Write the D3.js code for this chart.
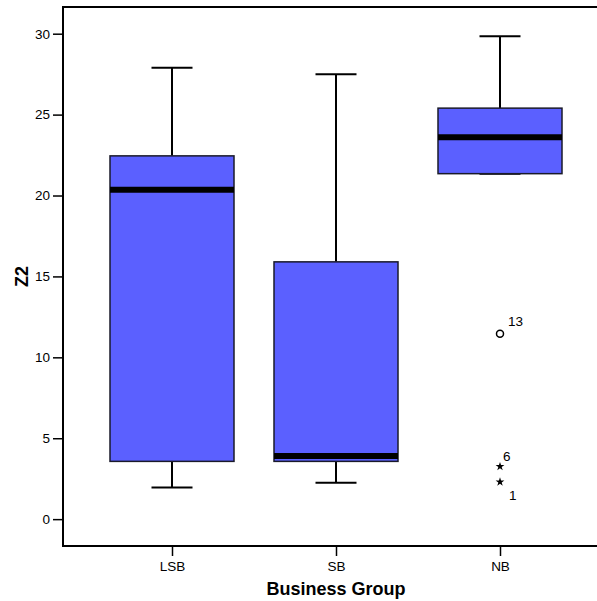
<html>
<head>
<script src="https://d3js.org/d3.v7.min.js"></script>
<style>
  body { margin: 0; background: #fff; }
  text { font-family: "Liberation Sans", Arial, sans-serif; fill: #000; }
</style>
</head>
<body>
<svg id="boxplot" width="597" height="601"></svg>
<script>
const groups = ["LSB", "SB", "NB"];
const whiskerLow = [1.96, 2.25, 21.35];
const q1 = [3.57, 3.57, 21.35];
const median = [20.35, 3.9, 23.6];
const q3 = [22.45, 15.9, 25.4];
const whiskerHigh = [27.9, 27.5, 29.85];
const yTicks = [0, 5, 10, 15, 20, 25, 30];
// outliers: group, value, case label, kind
const outGroup = ["NB", "NB", "NB"];
const outValue = [11.45, 3.25, 2.3];
const outLabel = ["13", "6", "1"];
const outKind = ["circle", "star", "star"];

const svg = d3.select('svg#boxplot');
const frame = {left: 63, top: 7, right: 609, bottom: 546};

const yScale = d3.scaleLinear().domain([-1.66, 31.65]).range([frame.bottom, frame.top]);
const xScale = d3.scalePoint().domain(groups).range([172, 500]);
const boxW = 124, capW = 41;

// frame lines (right edge falls outside the picture)
svg.append('path')
  .attr('d', `M${frame.right},${frame.top}H${frame.left}V${frame.bottom}H${frame.right}`)
  .attr('fill', 'none').attr('stroke', '#000').attr('stroke-width', 2);

// y axis
let leftAxis = d3.axisLeft(yScale).tickValues(yTicks).tickSize(10).tickPadding(3);
let gy = svg.append('g').attr('transform', `translate(${frame.left},0)`).call(leftAxis);
gy.select('.domain').remove();
gy.selectAll('.tick line').attr('stroke-width', 1.5);
gy.selectAll('.tick text').attr('font-size', 13.5).attr('font-family', '"Liberation Sans", Arial, sans-serif');

// x axis
let bottomAxis = d3.axisBottom(xScale).tickSize(10).tickPadding(5);
let gx = svg.append('g').attr('transform', `translate(0,${frame.bottom})`).call(bottomAxis);
gx.select('.domain').remove();
gx.selectAll('.tick line').attr('stroke-width', 1.5);
gx.selectAll('.tick text').attr('font-size', 13.5).attr('font-family', '"Liberation Sans", Arial, sans-serif');

// axis titles
svg.append('text').attr('x', xScale('SB')).attr('y', 595)
  .attr('text-anchor', 'middle').attr('font-size', 18).attr('font-weight', 'bold')
  .text('Business Group');
svg.append('text').attr('transform', `translate(28,${yScale(15)}) rotate(-90)`)
  .attr('text-anchor', 'middle').attr('font-size', 18).attr('font-weight', 'bold')
  .text('Z2');

// boxes
groups.forEach((g, i) => {
  const cx = xScale(g);
  const grp = svg.append('g');
  // whiskers
  grp.append('line').attr('x1', cx).attr('x2', cx)
    .attr('y1', yScale(q3[i])).attr('y2', yScale(whiskerHigh[i]))
    .attr('stroke', '#000').attr('stroke-width', 2);
  grp.append('line').attr('x1', cx).attr('x2', cx)
    .attr('y1', yScale(q1[i])).attr('y2', yScale(whiskerLow[i]))
    .attr('stroke', '#000').attr('stroke-width', 2);
  [whiskerHigh[i], whiskerLow[i]].forEach(v => {
    grp.append('line').attr('x1', cx - capW / 2).attr('x2', cx + capW / 2)
      .attr('y1', yScale(v)).attr('y2', yScale(v))
      .attr('stroke', '#000').attr('stroke-width', 2);
  });
  grp.append('rect')
    .attr('x', cx - boxW / 2).attr('width', boxW)
    .attr('y', yScale(q3[i])).attr('height', yScale(q1[i]) - yScale(q3[i]))
    .attr('fill', '#5b60ff').attr('stroke', '#1a1a2a').attr('stroke-width', 1.5);
  grp.append('line').attr('x1', cx - boxW / 2).attr('x2', cx + boxW / 2)
    .attr('y1', yScale(median[i])).attr('y2', yScale(median[i]))
    .attr('stroke', '#000').attr('stroke-width', 6);
});

// outliers
outValue.forEach((v, i) => {
  const cx = xScale(outGroup[i]), cy = yScale(v);
  if (outKind[i] === 'circle') {
    svg.append('circle').attr('cx', cx).attr('cy', cy).attr('r', 3.5)
      .attr('fill', '#fff').attr('stroke', '#000').attr('stroke-width', 1.5);
    svg.append('text').attr('x', cx + 8).attr('y', cy - 8).attr('font-size', 13.5).text(outLabel[i]);
  } else {
    svg.append('path').attr('d', d3.symbol(d3.symbolStar, 24)())
      .attr('transform', `translate(${cx},${cy})`).attr('fill', '#000');
    const above = i === 1;
    svg.append('text').attr('x', cx + (above ? 3 : 9)).attr('y', above ? cy - 6 : cy + 18)
      .attr('font-size', 13.5).text(outLabel[i]);
  }
});
</script>
</body>
</html>
